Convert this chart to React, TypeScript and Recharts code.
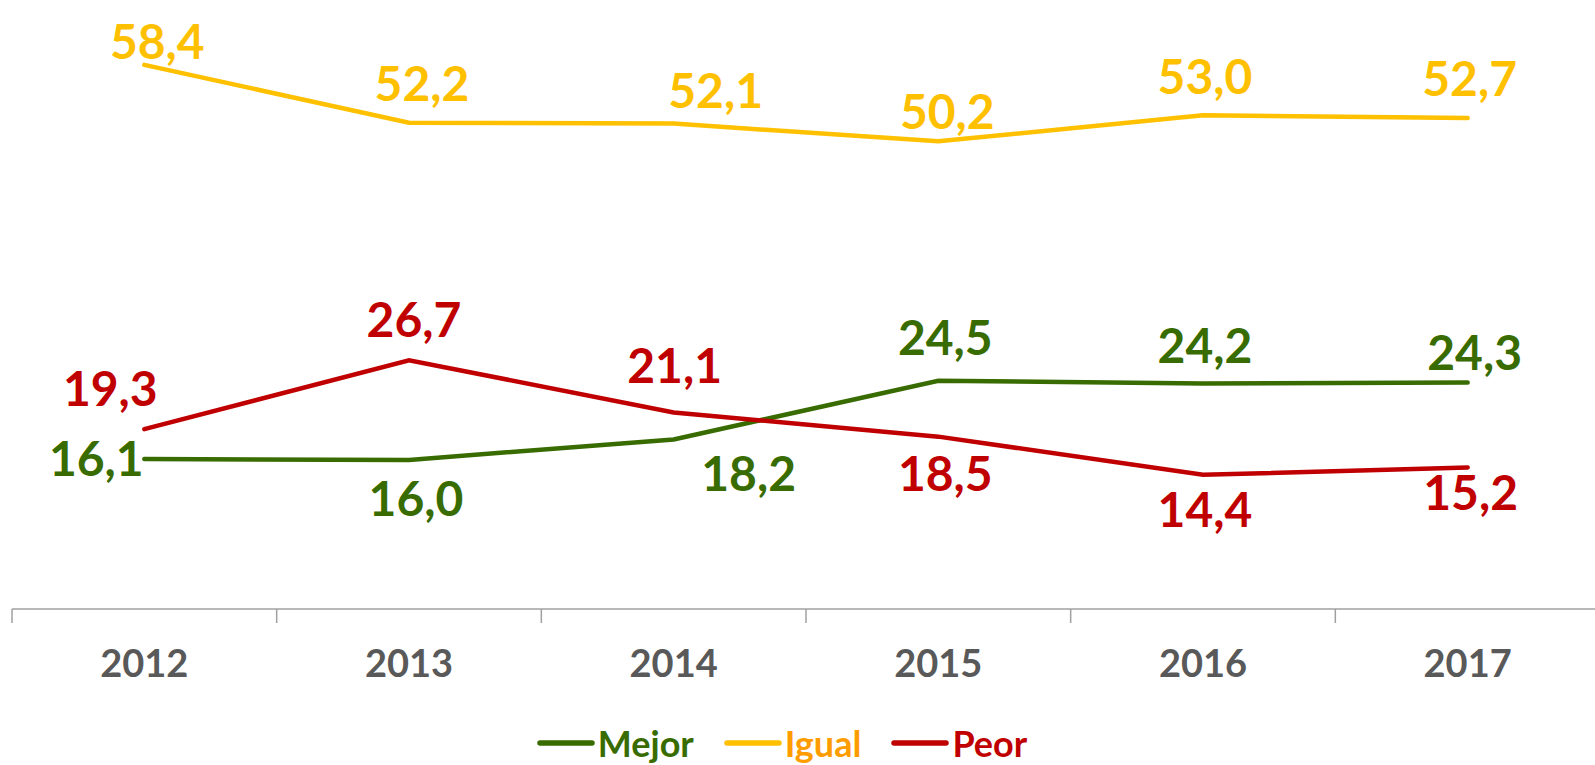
import React from 'react';
import { LineChart, Line, XAxis, YAxis, Legend } from 'recharts';

const YEARS = ['2012', '2013', '2014', '2015', '2016', '2017'];
const MEJOR = [16.1, 16.0, 18.2, 24.5, 24.2, 24.3];
const IGUAL = [58.4, 52.2, 52.1, 50.2, 53.0, 52.7];
const PEOR = [19.3, 26.7, 21.1, 18.5, 14.4, 15.2];

// where each value label sits, relative to its point (text centre, px)
const MEJOR_LABEL_POS = [[-48, -2], [7, 38], [75, 33], [7, -44], [2, -39], [7, -31]];
const IGUAL_LABEL_POS = [[13, -24], [13, -40], [42, -34], [9, -31], [2, -40], [2, -41]];
const PEOR_LABEL_POS = [[-34, -42], [5, -42], [1, -48], [7, 36], [2, 34], [3, 24]];

const GREEN = '#386C00';
const YELLOW = '#FFC000';
const RED = '#C00000';
const AXIS_GREY = '#A0A0A0';
const FONT = 'Lato, "Open Sans", sans-serif';

const CHART_W = 1600;
const CHART_H = 765;
const MARGIN = { top: 50, right: 0, left: 12, bottom: 0 };
const BAND = (CHART_W - MARGIN.left - MARGIN.right) / YEARS.length;

const data = YEARS.map((year, i) => ({
  year,
  mejor: MEJOR[i],
  igual: IGUAL[i],
  peor: PEOR[i],
}));

const fmt = (v: number) => v.toFixed(1).replace('.', ',');

// label renderer factory: colour + per-point offsets
const makeLabel = (color: string, pos: number[][]) => (props: any) => {
  const { x, y, value, index } = props;
  if (x == null || y == null) return null;
  const [dx, dy] = pos[index] ?? [0, -30];
  return (
    <text
      key={`lbl-${index}`}
      x={Number(x) + dx}
      y={Number(y) + dy}
      fill={color}
      textAnchor="middle"
      dominantBaseline="central"
      fontSize={48}
      fontWeight={700}
      fontFamily={FONT}
    >
      {fmt(Number(value))}
    </text>
  );
};

const YearTick = (props: any) => {
  const { x, y, payload } = props;
  const left = x - BAND / 2;
  return (
    <g>
      <line x1={left} y1={y} x2={left} y2={y + 14} stroke={AXIS_GREY} strokeWidth={1.5} />
      <text
        x={x}
        y={y + 68}
        textAnchor="middle"
        fill="#595959"
        fontSize={38}
        fontWeight={700}
        fontFamily={FONT}
      >
        {payload.value}
      </text>
    </g>
  );
};

const LEGEND_ITEMS = [
  { name: 'Mejor', line: GREEN, text: GREEN },
  { name: 'Igual', line: YELLOW, text: '#FF9C00' },
  { name: 'Peor', line: RED, text: RED },
];

const LegendContent = () => (
  <div
    style={{
      display: 'flex',
      justifyContent: 'center',
      alignItems: 'center',
      marginLeft: -48,
      fontFamily: FONT,
      fontWeight: 700,
      fontSize: 36,
      lineHeight: 'normal',
    }}
  >
    {LEGEND_ITEMS.map((it, i) => (
      <div key={it.name} style={{ display: 'flex', alignItems: 'center', marginLeft: i ? 30 : 0 }}>
        <svg width={58} height={10} style={{ marginRight: 3 }}>
          <line x1={3} y1={5} x2={55} y2={5} stroke={it.line} strokeWidth={5.5} strokeLinecap="round" />
        </svg>
        <span style={{ color: it.text }}>{it.name}</span>
      </div>
    ))}
  </div>
);

export default function App() {
  return (
    <div style={{ width: 1595, height: CHART_H, overflow: 'hidden', position: 'relative', background: '#fff' }}>
      <style>{'body{margin:0}'}</style>
      <LineChart width={CHART_W} height={CHART_H} data={data} margin={MARGIN}>
        <XAxis
          dataKey="year"
          interval={0}
          height={116}
          padding={{ left: BAND / 2, right: BAND / 2 }}
          axisLine={{ stroke: AXIS_GREY, strokeWidth: 1.5 }}
          tickLine={false}
          tickSize={0}
          tickMargin={0}
          tick={<YearTick />}
        />
        <YAxis hide domain={[0, 60]} />
        <Legend
          verticalAlign="bottom"
          height={40}
          wrapperStyle={{ bottom: 4 }}
          content={<LegendContent />}
        />
        <Line
          dataKey="mejor"
          name="Mejor"
          stroke={GREEN}
          strokeWidth={4.5}
          strokeLinecap="round"
          dot={false}
          isAnimationActive={false}
          label={makeLabel(GREEN, MEJOR_LABEL_POS)}
        />
        <Line
          dataKey="igual"
          name="Igual"
          stroke={YELLOW}
          strokeWidth={4.5}
          strokeLinecap="round"
          dot={false}
          isAnimationActive={false}
          label={makeLabel(YELLOW, IGUAL_LABEL_POS)}
        />
        <Line
          dataKey="peor"
          name="Peor"
          stroke={RED}
          strokeWidth={4.5}
          strokeLinecap="round"
          dot={false}
          isAnimationActive={false}
          label={makeLabel(RED, PEOR_LABEL_POS)}
        />
      </LineChart>
    </div>
  );
}
